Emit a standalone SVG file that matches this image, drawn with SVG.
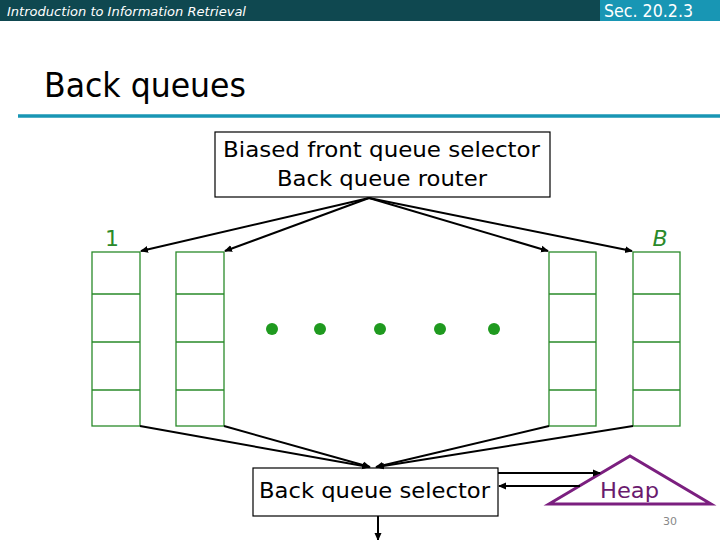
<svg xmlns="http://www.w3.org/2000/svg" width="720" height="540" viewBox="0 0 720 540">
<style>
text{font-family:"DejaVu Sans","Open Sans",sans-serif}
.q{fill:none;stroke:#2a8a2a;stroke-width:1.3}
.a{fill:none;stroke:#000;stroke-width:2}
.box{fill:#fff;stroke:#000;stroke-width:1.2}
.lbl{font-size:22px;fill:#000}
.dot{fill:#1f9a1f}
</style>
<defs>
<marker id="ah" markerWidth="8" markerHeight="8" refX="7" refY="4" orient="auto" markerUnits="userSpaceOnUse">
<path d="M0,0.5 L8,4 L0,7.5 z" fill="#000"/>
</marker>
</defs>
<rect x="0" y="0" width="720" height="21" fill="#0f4850"/>
<rect x="600" y="0" width="120" height="21" fill="#1896b4"/>
<text x="7" y="16" font-size="13" font-style="italic" fill="#fff" textLength="239" lengthAdjust="spacingAndGlyphs">Introduction to Information Retrieval</text>
<text x="604" y="17" font-size="18" fill="#fff" textLength="89" lengthAdjust="spacingAndGlyphs">Sec. 20.2.3</text>
<text x="44" y="97" font-size="34" fill="#000" textLength="202" lengthAdjust="spacingAndGlyphs">Back queues</text>
<line x1="18" y1="116" x2="720" y2="116" stroke="#1896b4" stroke-width="3.5"/>

<g id="front-selector">
<rect class="box" x="215" y="132" width="335" height="65"/>
<text class="lbl" x="223" y="157" textLength="317" lengthAdjust="spacingAndGlyphs">Biased front queue selector</text>
<text class="lbl" x="277" y="186" textLength="210" lengthAdjust="spacingAndGlyphs">Back queue router</text>
</g>

<g id="queue-1">
<rect class="q" x="92" y="252" width="48" height="174"/>
<path class="q" d="M92,294H140M92,342H140M92,390H140"/>
<text x="112" y="246" font-size="22" fill="#2a8a2a" text-anchor="middle">1</text>
</g>
<g id="queue-2">
<rect class="q" x="176" y="252" width="48" height="174"/>
<path class="q" d="M176,294H224M176,342H224M176,390H224"/>
</g>
<g id="queue-3">
<rect class="q" x="549" y="252" width="47" height="174"/>
<path class="q" d="M549,294H596M549,342H596M549,390H596"/>
</g>
<g id="queue-B">
<rect class="q" x="633" y="252" width="47" height="174"/>
<path class="q" d="M633,294H680M633,342H680M633,390H680"/>
<text x="660" y="246" font-size="22" font-style="italic" fill="#2a8a2a" text-anchor="middle">B</text>
</g>

<g id="dots">
<circle class="dot" cx="272" cy="329" r="6"/>
<circle class="dot" cx="320" cy="329" r="6"/>
<circle class="dot" cx="380" cy="329" r="6"/>
<circle class="dot" cx="440" cy="329" r="6"/>
<circle class="dot" cx="494" cy="329" r="6"/>
</g>

<g id="back-selector">
<rect class="box" x="253" y="468" width="245" height="48"/>
<text class="lbl" x="259" y="498" textLength="231" lengthAdjust="spacingAndGlyphs">Back queue selector</text>
</g>

<g id="heap">
<path d="M549,504 L630,456 L711,504 Z" fill="none" stroke="#7b1f7f" stroke-width="3"/>
<text x="600" y="498" font-size="22" fill="#6a1a6e" textLength="59" lengthAdjust="spacingAndGlyphs">Heap</text>
</g>

<g id="connectors">
<line class="a" x1="369" y1="198" x2="141" y2="251" marker-end="url(#ah)"/>
<line class="a" x1="369" y1="198" x2="225" y2="251" marker-end="url(#ah)"/>
<line class="a" x1="369" y1="198" x2="548" y2="251" marker-end="url(#ah)"/>
<line class="a" x1="369" y1="198" x2="632" y2="251" marker-end="url(#ah)"/>
<line class="a" x1="140" y1="426" x2="369" y2="467" marker-end="url(#ah)"/>
<line class="a" x1="224" y1="426" x2="370" y2="467" marker-end="url(#ah)"/>
<line class="a" x1="549" y1="426" x2="376" y2="467" marker-end="url(#ah)"/>
<line class="a" x1="633" y1="426" x2="377" y2="467" marker-end="url(#ah)"/>
<line class="a" x1="498" y1="473" x2="600" y2="473" marker-end="url(#ah)"/>
<line class="a" x1="580" y1="486" x2="499" y2="486" marker-end="url(#ah)"/>
<line class="a" x1="378" y1="516" x2="378" y2="540" marker-end="url(#ah)"/>
</g>

<text x="670" y="525" font-size="11" fill="#888" text-anchor="middle">30</text>
</svg>
